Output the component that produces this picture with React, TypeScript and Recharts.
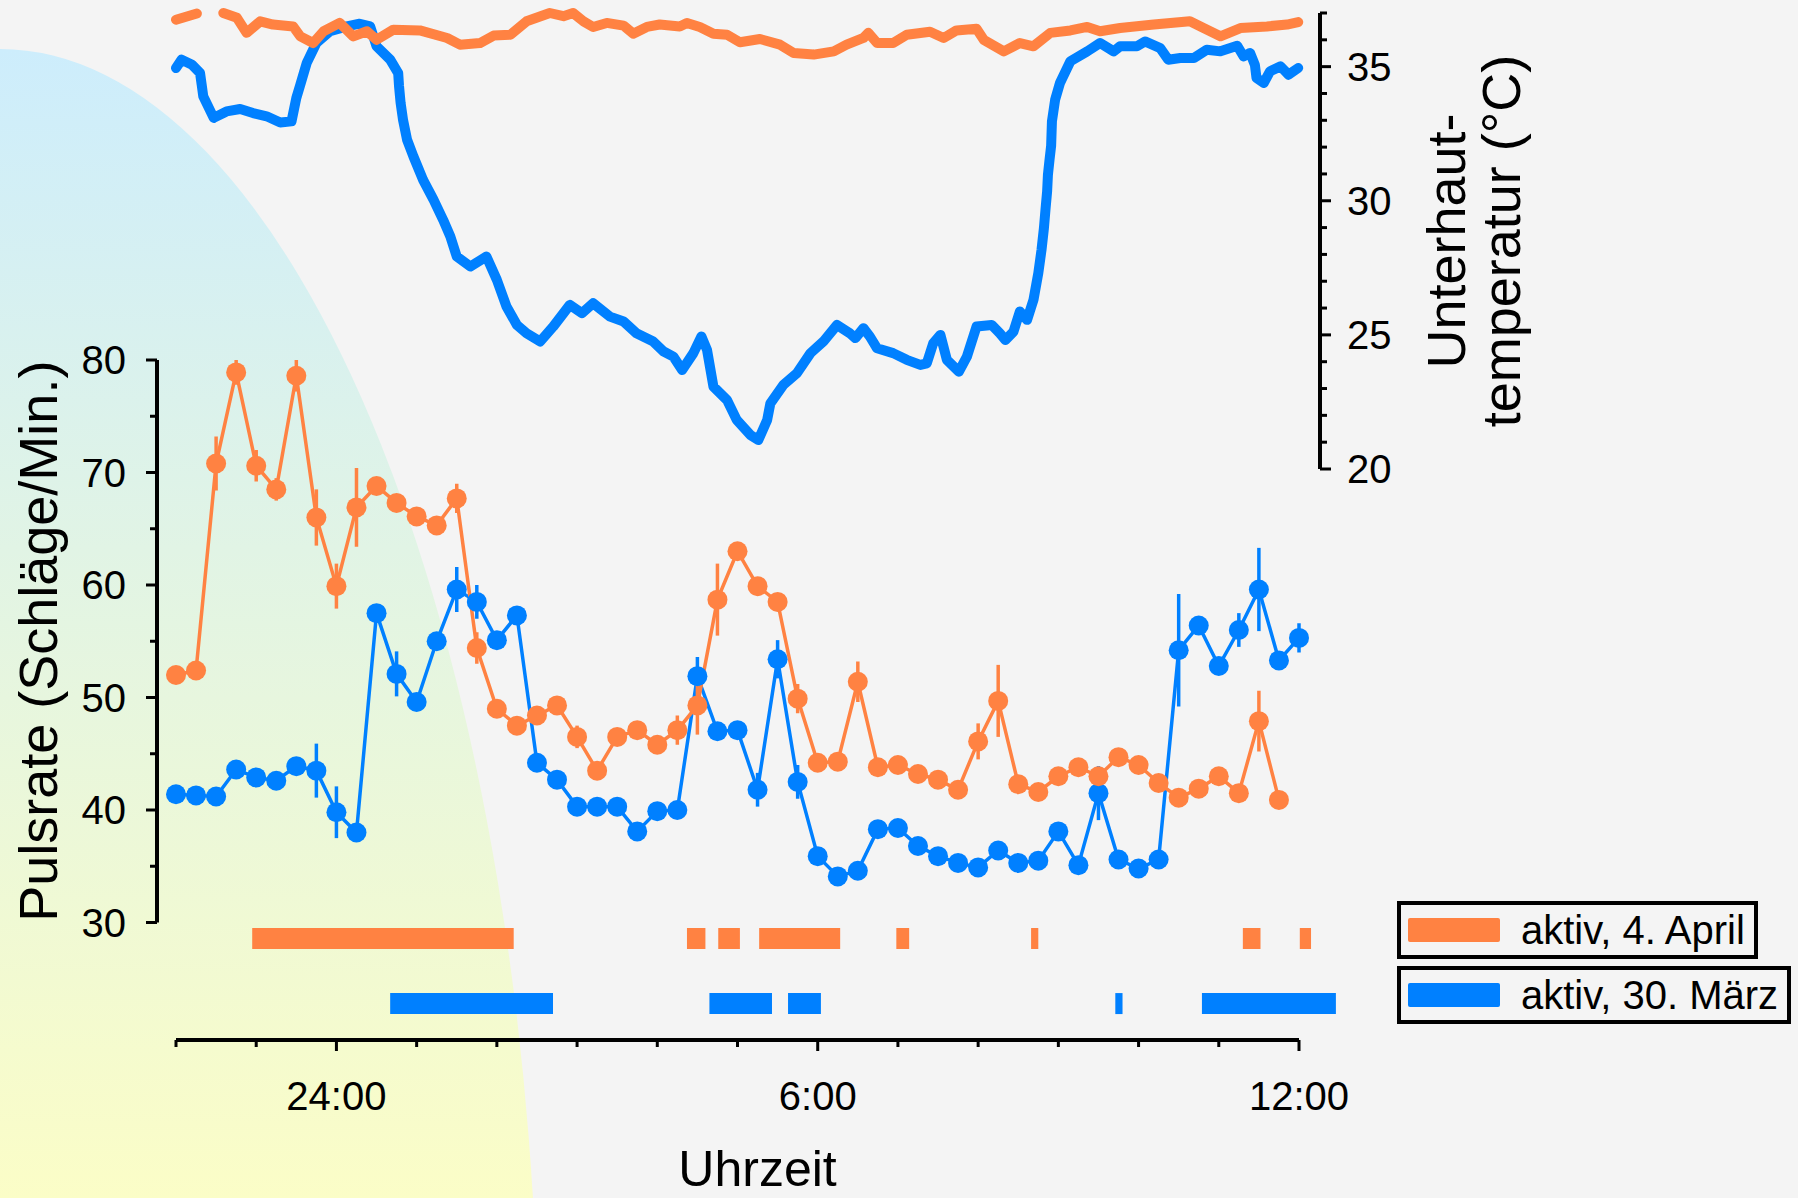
import {
  ComposedChart,
  ErrorBar,
  Line,
  ReferenceLine,
  XAxis,
  YAxis,
} from "recharts";

const ORANGE = "#ff8242";
const BLUE = "#0080ff";
const FONT = "'Liberation Sans', Arial, Helvetica, sans-serif";
const W = 1798;
const H = 1198;

// time in hours, counted from noon of the previous day: 24 = midnight, 36 = noon
const hourTicks = [22, 23, 24, 25, 26, 27, 28, 29, 30, 31, 32, 33, 34, 35, 36];
const hourLabels: Record<number, string> = { 24: "24:00", 30: "6:00", 36: "12:00" };
const pulseTicks = [30, 35, 40, 45, 50, 55, 60, 65, 70, 75, 80];
const tempTicks = [20, 21, 22, 23, 24, 25, 26, 27, 28, 29, 30, 31, 32, 33, 34, 35, 36, 37];

const pulseTimes = [
  22, 22.25, 22.5, 22.75, 23, 23.25, 23.5, 23.75, 24, 24.25, 24.5, 24.75, 25, 25.25, 25.5,
  25.75, 26, 26.25, 26.5, 26.75, 27, 27.25, 27.5, 27.75, 28, 28.25, 28.5, 28.75, 29, 29.25,
  29.5, 29.75, 30, 30.25, 30.5, 30.75, 31, 31.25, 31.5, 31.75, 32, 32.25, 32.5, 32.75, 33,
  33.25, 33.5, 33.75, 34, 34.25, 34.5, 34.75, 35, 35.25, 35.5, 35.75, 36,
];

const pulseApril = [
  52.0, 52.4, 70.8, 78.9, 70.6, 68.5, 78.6, 66.0, 59.9, 66.9, 68.8, 67.3, 66.1, 65.3, 67.7,
  54.4, 49.0, 47.5, 48.4, 49.3, 46.5, 43.5, 46.5, 47.1, 45.8, 47.1, 49.3, 58.7, 63.0, 59.9,
  58.5, 49.9, 44.2, 44.3, 51.4, 43.8, 44.0, 43.2, 42.7, 41.8, 46.1, 49.7, 42.3, 41.6, 43.0,
  43.8, 43.0, 44.7, 44.0, 42.4, 41.1, 41.9, 43.0, 41.5, 47.9, 40.9,
];
const pulseAprilErr = [
  0.5, 0.5, 2.4, 1.1, 1.4, 1.0, 1.4, 2.5, 2.0, 3.5, 0.5, 0.5, 0.5, 0.5, 1.3,
  1.4, 0.5, 0.5, 0.5, 0.5, 1.0, 0.5, 0.5, 0.5, 0.5, 1.3, 2.6, 3.2, 0.5, 0.8,
  0.5, 1.3, 0.5, 0.5, 1.8, 0.5, 0.5, 0.5, 0.5, 0.5, 1.6, 3.2, 0.5, 0.5, 0.5,
  0.5, 0.5, 0.5, 0.5, 0.5, 0.5, 0.5, 0.5, 0.5, 2.7, 0.5,
];

const pulseMarch = [
  41.4, 41.3, 41.2, 43.6, 42.9, 42.6, 43.9, 43.5, 39.8, 38.0, 57.5, 52.1, 49.6, 55.0, 59.6,
  58.5, 55.1, 57.3, 44.2, 42.7, 40.3, 40.3, 40.3, 38.1, 39.9, 40.0, 51.9, 47.0, 47.1, 41.8,
  53.4, 42.5, 35.9, 34.1, 34.6, 38.3, 38.4, 36.8, 35.9, 35.3, 34.9, 36.4, 35.3, 35.5, 38.1,
  35.1, 41.5, 35.6, 34.8, 35.6, 54.2, 56.4, 52.8, 56.0, 59.6, 53.3, 55.3,
];
const pulseMarchErr = [
  0.5, 0.5, 0.5, 0.5, 0.5, 0.5, 0.5, 2.4, 2.3, 0.5, 0.8, 2.0, 0.5, 0.6, 2.0,
  1.5, 0.5, 0.5, 0.5, 0.5, 0.5, 0.5, 0.5, 0.5, 0.5, 0.5, 1.7, 0.5, 0.5, 1.5,
  1.7, 1.5, 0.5, 0.5, 0.5, 0.5, 0.5, 0.5, 0.5, 0.5, 0.5, 0.5, 0.5, 0.5, 0.5,
  0.5, 2.4, 0.5, 0.5, 0.5, 5.0, 0.5, 0.5, 1.5, 3.7, 0.5, 1.3,
];

// [hour, °C]; null = gap in the recording
const tempApril: [number, number | null][] = [
  [22.0, 36.75], [22.26, 36.98], [22.42, null], [22.59, 37.0], [22.76, 36.82], [22.88, 36.26],
  [23.05, 36.69], [23.21, 36.57], [23.46, 36.5], [23.55, 36.13], [23.71, 35.88], [23.84, 36.32],
  [24.04, 36.63], [24.21, 36.13], [24.38, 36.32], [24.5, 36.0], [24.71, 36.38], [25.04, 36.35],
  [25.38, 36.07], [25.54, 35.82], [25.79, 35.88], [25.96, 36.16], [26.17, 36.19], [26.37, 36.69],
  [26.66, 37.0], [26.83, 36.88], [26.95, 37.0], [27.08, 36.69], [27.2, 36.48], [27.37, 36.63],
  [27.58, 36.53], [27.7, 36.23], [27.87, 36.48], [28.03, 36.57], [28.28, 36.5], [28.37, 36.63],
  [28.53, 36.48], [28.7, 36.23], [28.87, 36.19], [29.03, 35.91], [29.28, 36.03], [29.53, 35.82],
  [29.7, 35.51], [29.95, 35.45], [30.2, 35.57], [30.36, 35.82], [30.57, 36.07], [30.63, 36.26],
  [30.74, 35.88], [30.94, 35.88], [31.11, 36.19], [31.4, 36.3], [31.57, 36.07], [31.73, 36.35],
  [31.98, 36.41], [32.07, 36.0], [32.32, 35.57], [32.52, 35.88], [32.69, 35.76], [32.9, 36.26],
  [33.15, 36.35], [33.36, 36.48], [33.52, 36.32], [33.77, 36.44], [34.19, 36.57], [34.64, 36.69],
  [34.81, 36.44], [35.02, 36.13], [35.27, 36.44], [35.6, 36.5], [35.85, 36.57], [35.99, 36.66],
];

const tempMarch: [number, number][] = [
  [22.0, 34.95], [22.07, 35.26], [22.2, 35.07], [22.3, 34.76], [22.32, 34.33], [22.34, 33.89],
  [22.47, 33.09], [22.63, 33.33], [22.8, 33.42], [22.96, 33.27], [23.13, 33.15], [23.3, 32.92],
  [23.44, 32.96], [23.5, 33.83], [23.55, 34.33], [23.63, 35.14], [23.75, 35.88], [23.92, 36.32],
  [24.13, 36.5], [24.29, 36.6], [24.42, 36.5], [24.5, 35.76], [24.67, 35.26], [24.77, 34.76],
  [24.78, 34.29], [24.8, 33.65], [24.83, 33.02], [24.88, 32.28], [24.96, 31.65], [25.08, 30.78],
  [25.21, 30.04], [25.33, 29.29], [25.42, 28.67], [25.5, 27.92], [25.67, 27.55], [25.87, 27.92],
  [26.0, 27.05], [26.12, 26.06], [26.25, 25.37], [26.37, 25.06], [26.54, 24.75], [26.7, 25.3],
  [26.91, 26.12], [27.06, 25.81], [27.2, 26.18], [27.41, 25.68], [27.58, 25.5], [27.74, 25.06],
  [27.95, 24.75], [28.08, 24.38], [28.2, 24.19], [28.31, 23.69], [28.45, 24.32], [28.55, 24.94],
  [28.62, 24.44], [28.7, 23.07], [28.87, 22.57], [28.99, 21.83], [29.16, 21.27], [29.26, 21.08],
  [29.37, 21.83], [29.41, 22.45], [29.57, 23.13], [29.74, 23.57], [29.91, 24.32], [30.07, 24.75],
  [30.24, 25.37], [30.4, 25.06], [30.47, 24.88], [30.57, 25.25], [30.65, 24.94], [30.74, 24.5],
  [30.94, 24.32], [31.11, 24.07], [31.28, 23.88], [31.36, 23.94], [31.44, 24.69], [31.53, 25.0],
  [31.61, 24.07], [31.76, 23.63], [31.86, 24.19], [31.98, 25.31], [32.17, 25.37], [32.27, 25.06],
  [32.34, 24.81], [32.44, 25.12], [32.52, 25.87], [32.61, 25.56], [32.69, 26.31], [32.75, 27.3],
  [32.79, 28.17], [32.82, 28.98], [32.84, 29.69], [32.86, 30.35], [32.87, 30.97], [32.89, 31.53],
  [32.91, 32.05], [32.92, 32.96], [32.96, 33.77], [33.02, 34.39], [33.15, 35.2], [33.36, 35.57],
  [33.52, 35.88], [33.69, 35.57], [33.77, 35.76], [33.98, 35.76], [34.08, 35.94], [34.27, 35.69],
  [34.37, 35.26], [34.52, 35.32], [34.69, 35.32], [34.85, 35.63], [35.02, 35.57], [35.23, 35.78],
  [35.31, 35.38], [35.39, 35.51], [35.45, 35.07], [35.47, 34.58], [35.56, 34.39], [35.64, 34.83],
  [35.77, 35.01], [35.87, 34.7], [35.99, 34.95],
];

// activity periods [start, end] in hours
const activeApril: [number, number][] = [
  [22.95, 26.21], [28.37, 28.6], [28.76, 29.03], [29.27, 30.28],
  [30.98, 31.14], [32.66, 32.75], [35.3, 35.52], [36.01, 36.15],
];
const activeMarch: [number, number][] = [
  [24.67, 26.7], [28.65, 29.43], [29.63, 30.04], [33.71, 33.8], [34.79, 36.46],
];

const legendItems = [
  { label: "aktiv, 4. April", color: ORANGE },
  { label: "aktiv, 30. März", color: BLUE },
];

const aprilPulseData = pulseApril.map((v, i) => ({ t: pulseTimes[i], v, e: pulseAprilErr[i] }));
const marchPulseData = pulseMarch.map((v, i) => ({ t: pulseTimes[i], v, e: pulseMarchErr[i] }));
const aprilTempData = tempApril.map(([t, v]) => ({ t, v }));
const marchTempData = tempMarch.map(([t, v]) => ({ t, v }));
// lane 1 = 4. April, lane 0 = 30. März
const activityData = [
  ...activeApril.flatMap(([a, b]) => [{ t: a, lane: 1 }, { t: b, lane: 1 }]),
  ...activeMarch.flatMap(([a, b]) => [{ t: a, lane: 0 }, { t: b, lane: 0 }]),
];

const layer: React.CSSProperties = { position: "absolute", left: 0, top: 0 };

function PulseTick(props: any) {
  const { x, y, payload } = props;
  const major = payload.value % 10 === 0;
  return (
    <g>
      <line x1={x - (major ? 11 : 7)} x2={x} y1={y} y2={y} stroke="#000" strokeWidth={3} />
      {major && (
        <text x={x - 31} y={y} dy={14} textAnchor="end" fontSize={40} fontFamily={FONT} fill="#000">
          {payload.value}
        </text>
      )}
    </g>
  );
}

function TempTick(props: any) {
  const { x, y, payload } = props;
  const major = payload.value % 5 === 0;
  return (
    <g>
      <line x1={x} x2={x + (major ? 11 : 7)} y1={y} y2={y} stroke="#000" strokeWidth={3} />
      {major && (
        <text x={x + 27} y={y} dy={14} textAnchor="start" fontSize={40} fontFamily={FONT} fill="#000">
          {payload.value}
        </text>
      )}
    </g>
  );
}

function HourTick(props: any) {
  const { x, y, payload } = props;
  const label = hourLabels[payload.value];
  return (
    <g>
      <line x1={x} x2={x} y1={y} y2={y + (label ? 11 : 7)} stroke="#000" strokeWidth={3} />
      {label && (
        <text x={x} y={y + 70} textAnchor="middle" fontSize={40} fontFamily={FONT} fill="#000">
          {label}
        </text>
      )}
    </g>
  );
}

const pulseTitle = (props: any) => {
  const vb = props.viewBox ?? { x: 0, y: 360, width: 157, height: 562 };
  const cx = vb.x + 57;
  const cy = vb.y + vb.height / 2;
  return (
    <text x={cx} y={cy} transform={`rotate(-90 ${cx} ${cy})`} textAnchor="middle" fontSize={54} fontFamily={FONT} fill="#000">
      Pulsrate (Schläge/Min.)
    </text>
  );
};

const tempTitle = (props: any) => {
  const vb = props.viewBox ?? { x: 1320, y: 13, width: 478, height: 456 };
  const cy = vb.y + vb.height / 2;
  const x1 = vb.x + 145;
  const x2 = vb.x + 200;
  return (
    <g fontSize={54} fontFamily={FONT} fill="#000" textAnchor="middle">
      <text x={x1} y={cy} transform={`rotate(-90 ${x1} ${cy})`}>Unterhaut-</text>
      <text x={x2} y={cy} transform={`rotate(-90 ${x2} ${cy})`}>temperatur (°C)</text>
    </g>
  );
};

const timeTitle = (props: any) => {
  const vb = props.viewBox ?? { x: 176, y: 1040, width: 1123, height: 158 };
  return (
    <text x={vb.x + vb.width / 2 + 20} y={vb.y + 146} textAnchor="middle" fontSize={50} fontFamily={FONT} fill="#000">
      Uhrzeit
    </text>
  );
};

export default function App() {
  return (
    <div
      style={{
        position: "absolute",
        left: 0,
        top: 0,
        width: W,
        height: H,
        overflow: "hidden",
        background: "#f4f4f4",
        fontFamily: FONT,
      }}
    >
      {/* night shading */}
      <svg width={W} height={H} style={layer}>
        <defs>
          <linearGradient id="night" x1="0" y1="49" x2="0" y2="1198" gradientUnits="userSpaceOnUse">
            <stop offset="0" stopColor="#cdedfc" />
            <stop offset="1" stopColor="#fbfdc7" />
          </linearGradient>
        </defs>
        <ellipse cx={0} cy={1400} rx={539} ry={1351} fill="url(#night)" />
      </svg>

      {/* subcutaneous temperature */}
      <div style={layer}>
        <ComposedChart width={W} height={H} margin={{ top: 13, right: 0, bottom: 729, left: 176 }}>
          <XAxis type="number" dataKey="t" domain={[22, 36]} hide padding={{ left: 0, right: 21 }} />
          <YAxis
            orientation="right"
            type="number"
            domain={[20, 37]}
            ticks={tempTicks}
            interval={0}
            width={478}
            tickSize={0}
            tickMargin={0}
            tickLine={false}
            axisLine={{ stroke: "#000", strokeWidth: 4 }}
            tick={<TempTick />}
            label={tempTitle}
          />
          <Line
            data={marchTempData}
            dataKey="v"
            type="linear"
            stroke={BLUE}
            strokeWidth={10}
            strokeLinecap="round"
            strokeLinejoin="round"
            dot={false}
            isAnimationActive={false}
          />
          <Line
            data={aprilTempData}
            dataKey="v"
            type="linear"
            stroke={ORANGE}
            strokeWidth={10}
            strokeLinecap="round"
            strokeLinejoin="round"
            dot={false}
            isAnimationActive={false}
          />
        </ComposedChart>
      </div>

      {/* pulse rate */}
      <div style={layer}>
        <ComposedChart width={W} height={H} margin={{ top: 360, right: 499, bottom: 275.5, left: 0 }}>
          <XAxis type="number" dataKey="t" domain={[22, 36]} hide padding={{ left: 19, right: 0 }} />
          <YAxis
            type="number"
            domain={[30, 80]}
            ticks={pulseTicks}
            interval={0}
            width={157}
            tickSize={0}
            tickMargin={0}
            tickLine={false}
            axisLine={{ stroke: "#000", strokeWidth: 4 }}
            tick={<PulseTick />}
            label={pulseTitle}
          />
          <Line
            data={marchPulseData}
            dataKey="v"
            type="linear"
            stroke={BLUE}
            strokeWidth={3.5}
            dot={{ r: 10, fill: BLUE, stroke: BLUE, strokeWidth: 0 }}
            isAnimationActive={false}
          >
            <ErrorBar dataKey="e" width={0} strokeWidth={3.5} stroke={BLUE} direction="y" />
          </Line>
          <Line
            data={aprilPulseData}
            dataKey="v"
            type="linear"
            stroke={ORANGE}
            strokeWidth={3.5}
            dot={{ r: 10, fill: ORANGE, stroke: ORANGE, strokeWidth: 0 }}
            isAnimationActive={false}
          >
            <ErrorBar dataKey="e" width={0} strokeWidth={3.5} stroke={ORANGE} direction="y" />
          </Line>
        </ComposedChart>
      </div>

      {/* activity bars and time axis */}
      <div style={layer}>
        <ComposedChart
          width={W}
          height={H}
          data={activityData}
          margin={{ top: 906, right: 499, bottom: 0, left: 176 }}
        >
          <XAxis
            type="number"
            dataKey="t"
            domain={[22, 36]}
            allowDataOverflow
            ticks={hourTicks}
            interval={0}
            height={158}
            tickSize={0}
            tickMargin={0}
            tickLine={false}
            axisLine={{ stroke: "#000", strokeWidth: 4 }}
            tick={<HourTick />}
            label={timeTitle}
          />
          <YAxis type="number" dataKey="lane" domain={[-0.56, 1.5]} allowDataOverflow hide />
          {activeApril.map(([a, b], i) => (
            <ReferenceLine
              key={`apr-${i}`}
              segment={[{ x: a, y: 1 }, { x: b, y: 1 }]}
              stroke={ORANGE}
              strokeWidth={21}
              ifOverflow="visible"
            />
          ))}
          {activeMarch.map(([a, b], i) => (
            <ReferenceLine
              key={`mar-${i}`}
              segment={[{ x: a, y: 0 }, { x: b, y: 0 }]}
              stroke={BLUE}
              strokeWidth={21}
              ifOverflow="visible"
            />
          ))}
        </ComposedChart>
      </div>

      {/* legend */}
      {legendItems.map((item, i) => (
        <div
          key={item.label}
          style={{
            position: "absolute",
            left: 1397,
            top: 901 + i * 65,
            height: 58,
            boxSizing: "border-box",
            border: "4px solid #000",
            display: "flex",
            alignItems: "center",
            padding: "0 9px 0 7px",
            fontSize: 40,
            color: "#000",
            whiteSpace: "nowrap",
          }}
        >
          <div style={{ width: 92, height: 24, background: item.color, borderRadius: 2, marginRight: 21 }} />
          <span>{item.label}</span>
        </div>
      ))}
    </div>
  );
}
